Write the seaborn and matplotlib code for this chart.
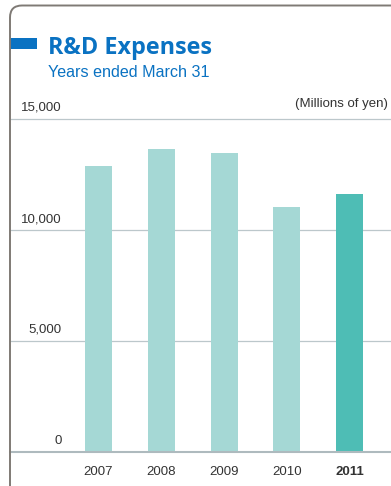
import matplotlib
matplotlib.use("Agg")
import matplotlib.pyplot as plt
from matplotlib.patches import FancyBboxPatch, Rectangle
from matplotlib.transforms import IdentityTransform
import seaborn as sns
import pandas as pd

# Fiscal years and R&D expenses (millions of yen)
years = ["2007", "2008", "2009", "2010", "2011"]
expenses = [12880, 13650, 13470, 11040, 11620]
highlight = ["past", "past", "past", "past", "current"]
y_ticks = [0, 5000, 10000, 15000]
y_tick_labels = ["0", "5,000", "10,000", "15,000"]

title = "R&D Expenses"
subtitle = "Years ended March 31"
unit_label = "(Millions of yen)"

BLUE = "#0a72c2"
BAR_LIGHT = "#a5d8d5"
BAR_DARK = "#4ebdb5"
GRID = "#bcc7cb"
TEXT = "#333333"

W, H = 391, 486
DPI = 100

sns.set_theme(style="white")
plt.rcParams["font.family"] = ["Liberation Sans", "DejaVu Sans"]

fig = plt.figure(figsize=(W / DPI, H / DPI), dpi=DPI)


def fx(px):
    return px / W


def fy(py):
    return 1 - py / H


# Plot area: zero line at y=452 px, 15,000 at y=119 px
ax_left, ax_right = 10, 391
ax_bottom, ax_top = 452, 119
ax = fig.add_axes([fx(ax_left), fy(ax_bottom), fx(ax_right - ax_left),
                   (ax_bottom - ax_top) / H])

df = pd.DataFrame({"year": years, "expense": expenses, "kind": highlight})
sns.barplot(data=df, x="year", y="expense", hue="kind",
            palette={"past": BAR_LIGHT, "current": BAR_DARK},
            dodge=False, width=0.43, legend=False, saturation=1,
            linewidth=0, edgecolor="none", ax=ax)
for p in ax.patches:
    p.set_zorder(2)

ax.set_ylim(0, 15000)
ax.set_xlim(-1.41, 4.66)
for s in ax.spines.values():
    s.set_visible(False)
ax.set_yticks([])
ax.set_xlabel("")
ax.set_ylabel("")
ax.patch.set_alpha(0)

# Horizontal gridlines behind bars, zero line a little heavier
for v in y_ticks[1:]:
    ax.axhline(v, color=GRID, lw=0.9, zorder=0, clip_on=False)
ax.axhline(0, color="#aebabe", lw=1.5, zorder=3, clip_on=False)

# Value labels sit just above their gridline, right-aligned
label_x = (62 - ax_left) / (ax_right - ax_left)
for v, lab in zip(y_ticks, y_tick_labels):
    ax.annotate(lab, xy=(label_x, v), xycoords=("axes fraction", "data"),
                xytext=(0, 5), textcoords="offset pixels",
                ha="right", va="bottom", fontsize=9.5, color=TEXT)

ax.tick_params(axis="x", length=0, pad=10, labelsize=9.5, labelcolor=TEXT)
ax.get_xticklabels()[-1].set_fontweight("bold")

# Header
fig.text(fx(48), fy(54), title, fontsize=16.8, fontweight="bold", color=BLUE,
         family=["Open Sans", "DejaVu Sans"], ha="left", va="baseline")
fig.text(fx(48), fy(77), subtitle, fontsize=11.6, color=BLUE,
         ha="left", va="baseline")
fig.text(fx(388), fy(107), unit_label, fontsize=9.5, color=TEXT,
         ha="right", va="baseline")

# Blue marker bar to the left of the title
fig.add_artist(Rectangle((10, H - 49), 27, 11, transform=IdentityTransform(),
                         facecolor=BLUE, edgecolor="none"))

# Rounded frame, open to the right and bottom
fig.add_artist(FancyBboxPatch((10, -30), 440, H - 5.5 + 30,
                              boxstyle="round,pad=0,rounding_size=12",
                              transform=IdentityTransform(),
                              facecolor="none", edgecolor="#7f7a75", lw=1.4))

fig.savefig("out.png", dpi=DPI)
